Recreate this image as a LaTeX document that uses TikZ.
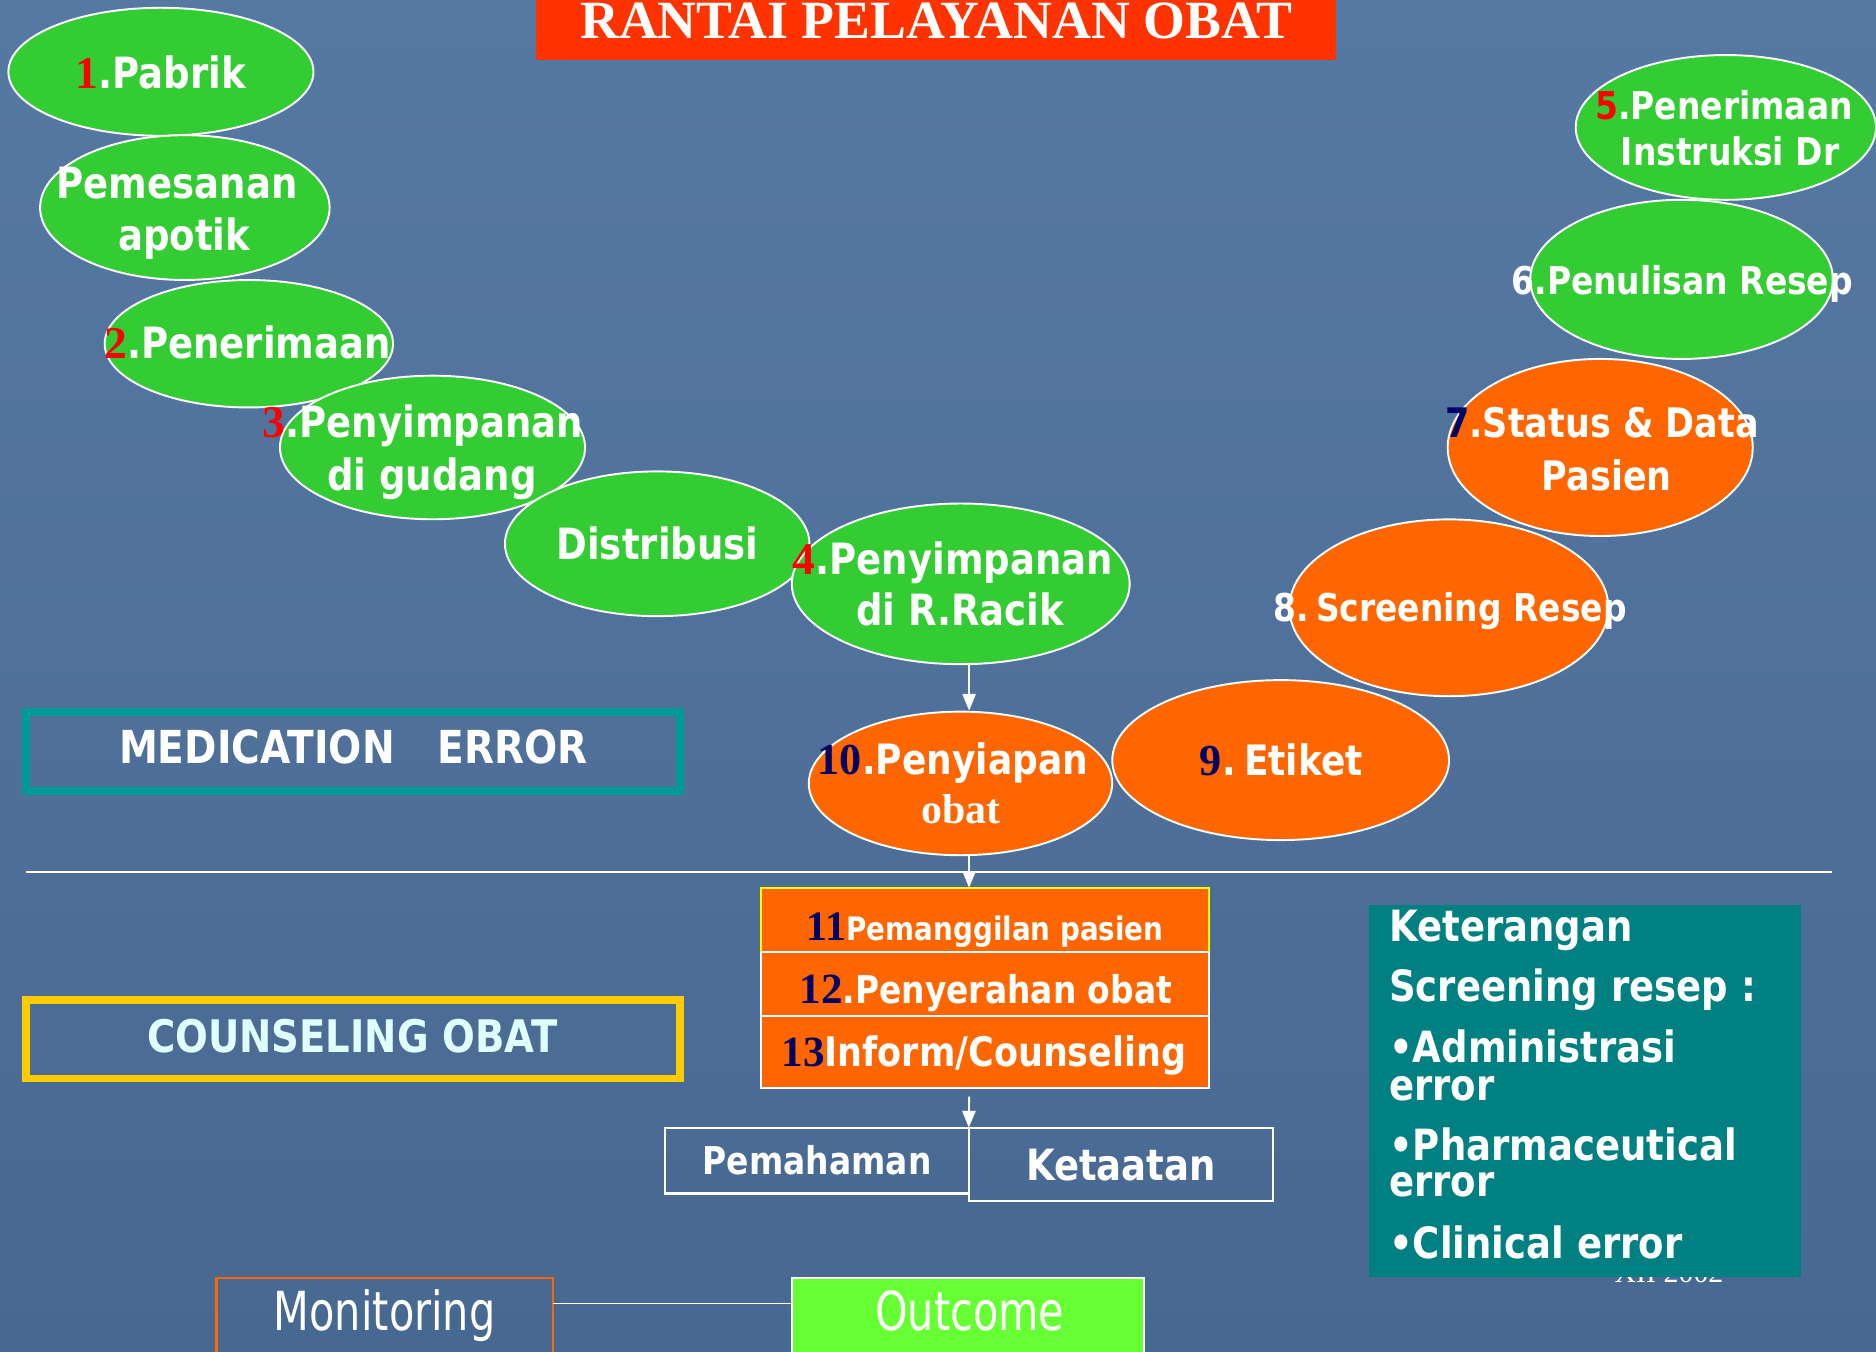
\documentclass[tikz,border=0pt]{standalone}
\usepackage{fontspec}
\usetikzlibrary{shapes.geometric,arrows.meta}
\newfontfamily\SansB[FakeStretch=0.86]{DejaVu Sans Bold}
\newfontfamily\SansR[FakeStretch=0.77]{DejaVu Sans}
\newfontfamily\SerB{Liberation Serif Bold}
\newfontfamily\SerR{Liberation Serif}
\newcommand\fz[1]{\fontsize{#1}{#1}\selectfont}
\definecolor{bgtop}{HTML}{5679A3}
\definecolor{bgmid}{HTML}{5D81AB}
\definecolor{bgbot}{HTML}{476891}
\definecolor{grn}{HTML}{33CC33}
\definecolor{org}{HTML}{FF6600}
\definecolor{ttl}{HTML}{FF3300}
\definecolor{numred}{HTML}{FF0000}
\definecolor{navy}{HTML}{000066}
\definecolor{tealb}{HTML}{009999}
\definecolor{tealf}{HTML}{008080}
\definecolor{yelb}{HTML}{FFCC00}
\definecolor{yel2}{HTML}{FFFF00}
\definecolor{outc}{HTML}{66FF33}
\definecolor{lcyan}{HTML}{E0FFFF}
\begin{document}
\begin{tikzpicture}[x=1pt,y=-1pt,
  ell/.style={ellipse, draw=white, line width=1.6pt, inner sep=0pt},
  gell/.style={ell, fill=grn},
  oell/.style={ell, fill=org},
  lbl/.style={inner sep=0pt, anchor=base, text=white},
  kl/.style={inner sep=0pt, anchor=base west, text=white, font=\SansB\fz{36}},
  rowbox/.style={rectangle, draw=white, line width=1.8pt, fill=org, inner sep=0pt, outer sep=0pt, minimum width=374.5pt},
  wbox/.style={rectangle, draw=white, line width=1.8pt, inner sep=0pt, outer sep=0pt},
  thick box/.style={rectangle, line width=6.5pt, inner sep=0pt, outer sep=0pt, minimum width=547pt},
  arr/.style={draw=white, line width=1.6pt, -{Triangle[width=11pt,length=14pt]}}
]
\useasboundingbox (0,0) rectangle (1568,1130);
\shade[top color=bgtop, middle color=bgmid, bottom color=bgbot] (0,0) rectangle (1568,1130);

% title
\node[fill=ttl, inner sep=0pt, minimum width=669pt, minimum height=56pt] (ttlbox) at (782.5,22) {};
\node[lbl, font=\SerB\fz{45}] (ttltxt) at (782.5,32) {RANTAI PELAYANAN OBAT};

% divider line
\coordinate (hl1) at (21.6,728.6);
\coordinate (hl2) at (1531,728.6);
\draw[white, line width=1.4pt] (hl1) -- (hl2);

% left chain ellipses
\node[gell, minimum width=255pt, minimum height=107pt] (e1) at (134.5,60) {};
\node[gell, minimum width=242pt, minimum height=121pt] (e2) at (154.5,173.5) {};
\node[gell, minimum width=241pt, minimum height=106.5pt] (e3) at (208,287.3) {};
\node[gell, minimum width=255pt, minimum height=120pt] (e4) at (361.5,374) {};
\node[gell, minimum width=254.5pt, minimum height=121pt] (e5) at (549.3,454.5) {};
\node[gell, minimum width=282.4pt, minimum height=134.3pt] (e6) at (803,488) {};
% right chain ellipses
\node[gell, minimum width=251pt, minimum height=121pt] (e7) at (1442.5,106.5) {};
\node[gell, minimum width=253pt, minimum height=133pt] (e8) at (1405.5,233.5) {};
\node[oell, minimum width=255pt, minimum height=148pt] (e9) at (1337.5,374) {};
\node[oell, minimum width=266.6pt, minimum height=147.8pt] (e10) at (1211,508) {};
\node[oell, minimum width=281.5pt, minimum height=133.7pt] (e11) at (1070.4,635.3) {};
\node[oell, minimum width=253.6pt, minimum height=120pt] (e12) at (802.8,654.8) {};

% ellipse labels
\node[lbl, font=\SansB\fz{36}] (t1) at (134.5,74) {{\SerB\fz{38}\color{numred}1}.Pabrik};
\node[lbl, font=\SansB\fz{36}] (t2a) at (148,166.3) {Pemesanan};
\node[lbl, font=\SansB\fz{36}] (t2b) at (154,209) {apotik};
\node[lbl, font=\SansB\fz{36}] (t3) at (207,300) {{\SerB\fz{38}\color{numred}2}.Penerimaan};
\node[lbl, font=\SansB\fz{36}] (t4a) at (353.5,366) {{\SerB\fz{38}\color{numred}3}.Penyimpanan};
\node[lbl, font=\SansB\fz{36}] (t4b) at (361,410) {di gudang};
\node[lbl, font=\SansB\fz{36}] (t5) at (549.5,468) {Distribusi};
\node[lbl, font=\SansB\fz{36}] (t6a) at (796.5,480) {{\SerB\fz{38}\color{numred}4}.Penyimpanan};
\node[lbl, font=\SansB\fz{36}] (t6b) at (802.5,523) {di R.Racik};
\node[lbl, font=\SansB\fz{32}] (t7a) at (1441,100) {{\color{numred}5}.Penerimaan};
\node[lbl, font=\SansB\fz{32}] (t7b) at (1446,138) {Instruksi Dr};
\node[lbl, font=\SansB\fz{32}] (t8) at (1406,246) {6.Penulisan Resep};
\node[lbl, font=\SansB\fz{34}] (t9a) at (1339,366) {{\color{navy}7}.Status \& Data};
\node[lbl, font=\SansB\fz{34}] (t9b) at (1343,410) {Pasien};
\node[lbl, font=\SansB\fz{32}] (t10) at (1212,519.6) {8.\hspace{6pt}Screening Resep};
\node[lbl, font=\SansB\fz{35}] (t11) at (1071,648) {{\SerB\fz{37}\color{navy}9}.\hspace{7pt}Etiket};
\node[lbl, font=\SansB\fz{35}] (t12a) at (796.5,647) {{\SerB\fz{37}\color{navy}10}.Penyiapan};
\node[lbl, font=\SerB\fz{35}] (t12b) at (803,688) {obat};

% side boxes
\node[thick box, draw=tealb, minimum height=66pt] (med) at (295,628) {};
\node[lbl, font=\SansB\fz{38}] (medt) at (295.5,638) {MEDICATION\hspace{36pt}ERROR};
\node[thick box, draw=yelb, minimum height=65.5pt] (cou) at (295,868.75) {};
\node[lbl, font=\SansB\fz{37.5}, text=lcyan] (cout) at (294.5,880) {COUNSELING OBAT};

% stack boxes
\node[rowbox, minimum height=53.5pt] (r1) at (823.25,768.75) {};
\node[rowbox, minimum height=53.5pt] (r2) at (823.25,822.25) {};
\node[rowbox, minimum height=60.6pt] (r3) at (823.25,879.3) {};
\draw[yel2, line width=1.8pt] (r1.south west) -- (r1.north west) -- (r1.north east) -- (r1.south east);
\node[lbl, font=\SansB\fz{27}] (r1t) at (823.5,785.7) {{\SerB\fz{35}\color{navy}11}Pemanggilan pasien};
\node[lbl, font=\SansB\fz{32}] (r2t) at (824,839) {{\SerB\fz{36}\color{navy}12}.Penyerahan obat};
\node[lbl, font=\SansB\fz{34}] (r3t) at (822.5,891.5) {{\SerB\fz{36}\color{navy}13}Inform/Counseling};

% Pemahaman / Ketaatan
\node[wbox, minimum width=254pt, minimum height=55pt] (pem) at (682.7,970) {};
\node[wbox, minimum width=254.3pt, minimum height=61pt] (ket) at (936.85,973) {};
\node[lbl, font=\SansB\fz{32}] (pemt) at (683,982) {Pemahaman};
\node[lbl, font=\SansB\fz{36}] (kett) at (937,987) {Ketaatan};

% arrows
\coordinate (ax) at (810,0);
\draw[arr] (e6.south -| ax) -- (e12.north -| ax);
\draw[arr] (e12.south -| ax) -- (r1.north -| ax);
\path (r3.south -| ax) ++(0,7) coordinate (a3s);
\draw[arr] (a3s) -- (pem.north east);

% year text partly hidden + keterangan
\node[lbl, font=\SerR\fz{25}] (yr) at (1395,1072) {XII 2002};
\node[fill=tealf, inner sep=0pt, minimum width=361pt, minimum height=311.5pt] (kbox) at (1324.5,911.75) {};
\node[kl] (k1) at (1161,786.6) {Keterangan};
\node[kl] (k2) at (1161,837) {Screening resep :};
\node[kl] (k3) at (1161,888) {•Administrasi};
\node[kl] (k4) at (1161,919.5) {error};
\node[kl] (k5) at (1161,970) {•Pharmaceutical};
\node[kl] (k6) at (1161,1000) {error};
\node[kl] (k7) at (1161,1051.5) {•Clinical error};

% monitoring / outcome
\node[rectangle, draw=org, line width=1.8pt, inner sep=0pt, outer sep=0pt, minimum width=281pt, minimum height=71.5pt] (mon) at (321.5,1104.25) {};
\node[rectangle, draw=white, fill=outc, line width=1.8pt, inner sep=0pt, outer sep=0pt, minimum width=294pt, minimum height=71.5pt] (out) at (809,1104.25) {};
\coordinate (ml) at (0,1089.5);
\draw[white, line width=1.6pt] (mon.east |- ml) -- (out.west |- ml);
\node[lbl, font=\SansR\fz{45}] (mont) at (321.5,1112) {Monitoring};
\node[lbl, font=\SansR\fz{45}] (outt) at (810.5,1112) {Outcome};
\end{tikzpicture}
\end{document}
